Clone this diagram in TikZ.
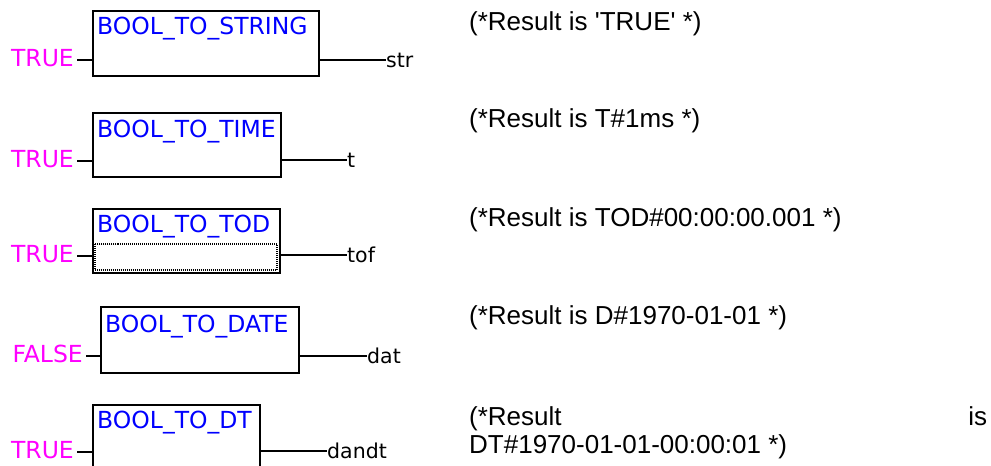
\documentclass[tikz,border=0pt]{standalone}
\usepackage{fontspec}
\setmainfont{Liberation Sans}[Ligatures=TeXOff]
\newfontfamily\blockfont{DejaVu Sans}
\definecolor{titleblue}{RGB}{0,0,255}
\definecolor{constmag}{RGB}{255,0,255}
\begin{document}
\begin{tikzpicture}[x=1pt,y=-1pt,
  fb/.style={draw=black, line width=2pt, rectangle, inner sep=0pt, anchor=north west},
  fbtitle/.style={anchor=base west, inner sep=0pt, text=titleblue, font=\blockfont\fontsize{23.5}{28}\selectfont},
  inlab/.style={anchor=base east, inner sep=0pt, text=constmag, font=\blockfont\fontsize{23.5}{28}\selectfont},
  outlab/.style={anchor=base west, inner sep=0pt, font=\blockfont\fontsize{20.5}{24}\selectfont},
  cmt/.style={anchor=base west, inner sep=0pt, align=left, font=\fontsize{26}{28}\selectfont},
  wire/.style={line width=1.3pt}]
\useasboundingbox (0,0) rectangle (991,466);
\clip (0,0) rectangle (991,466);

% boxes
\node[fb, minimum width=226pt, minimum height=65pt] (b1) at (92,10) {};
\node[fb, minimum width=188pt, minimum height=64pt] (b2) at (92,112) {};
\node[fb, minimum width=187pt, minimum height=64pt] (b3) at (92,208) {};
\node[fb, minimum width=198pt, minimum height=66pt] (b4) at (100,306) {};
\node[fb, minimum width=167pt, minimum height=72pt] (b5) at (92,404) {};
\draw[line width=2pt, dash pattern=on 1pt off 1pt] (94.5,244) rectangle (276.5,270);

% titles
\node[fbtitle] (t1) at (97,34) {BOOL\_TO\_STRING};
\node[fbtitle] (t2) at (97,137) {BOOL\_TO\_TIME};
\node[fbtitle] (t3) at (97,232) {BOOL\_TO\_TOD};
\node[fbtitle] (t4) at (105,332) {BOOL\_TO\_DATE};
\node[fbtitle] (t5) at (97,428) {BOOL\_TO\_DT};

% inputs
\coordinate (i1) at (77,60);
\coordinate (i2) at (77,161);
\coordinate (i3) at (77,256);
\coordinate (i4) at (86,356);
\coordinate (i5) at (77,452);
\node[inlab] (l1) at (74,66) {TRUE};
\node[inlab] (l2) at (74,167) {TRUE};
\node[inlab] (l3) at (74,262) {TRUE};
\node[inlab] (l4) at (83,362) {FALSE};
\node[inlab] (l5) at (74,458) {TRUE};
\draw[wire] (i1) -- (i1 -| b1.west);
\draw[wire] (i2) -- (i2 -| b2.west);
\draw[wire] (i3) -- (i3 -| b3.west);
\draw[wire] (i4) -- (i4 -| b4.west);
\draw[wire] (i5) -- (i5 -| b5.west);

% outputs
\coordinate (o1) at (386,60);
\coordinate (o2) at (347,160);
\coordinate (o3) at (347,255);
\coordinate (o4) at (367,356);
\coordinate (o5) at (327,451);
\draw[wire] (o1 -| b1.east) -- (o1);
\draw[wire] (o2 -| b2.east) -- (o2);
\draw[wire] (o3 -| b3.east) -- (o3);
\draw[wire] (o4 -| b4.east) -- (o4);
\draw[wire] (o5 -| b5.east) -- (o5);
\node[outlab] (r1) at (386,67) {str};
\node[outlab] (r2) at (347,167) {t};
\node[outlab] (r3) at (347,262) {tof};
\node[outlab] (r4) at (367,363) {dat};
\node[outlab] (r5) at (327,458) {dandt};

% comments
\node[cmt] (c1) at (469,30) {(*Result is 'TRUE' *)};
\node[cmt] (c2) at (469,127) {(*Result is T\#1ms *)};
\node[cmt] (c3) at (469,226) {(*Result is TOD\#00:00:00.001 *)};
\node[cmt] (c4) at (469,324) {(*Result is D\#1970-01-01 *)};
\node[cmt] (c5) at (469,453) {\makebox[518pt][l]{(*Result\hfill is}\\DT\#1970-01-01-00:00:01 *)};
\end{tikzpicture}
\end{document}
